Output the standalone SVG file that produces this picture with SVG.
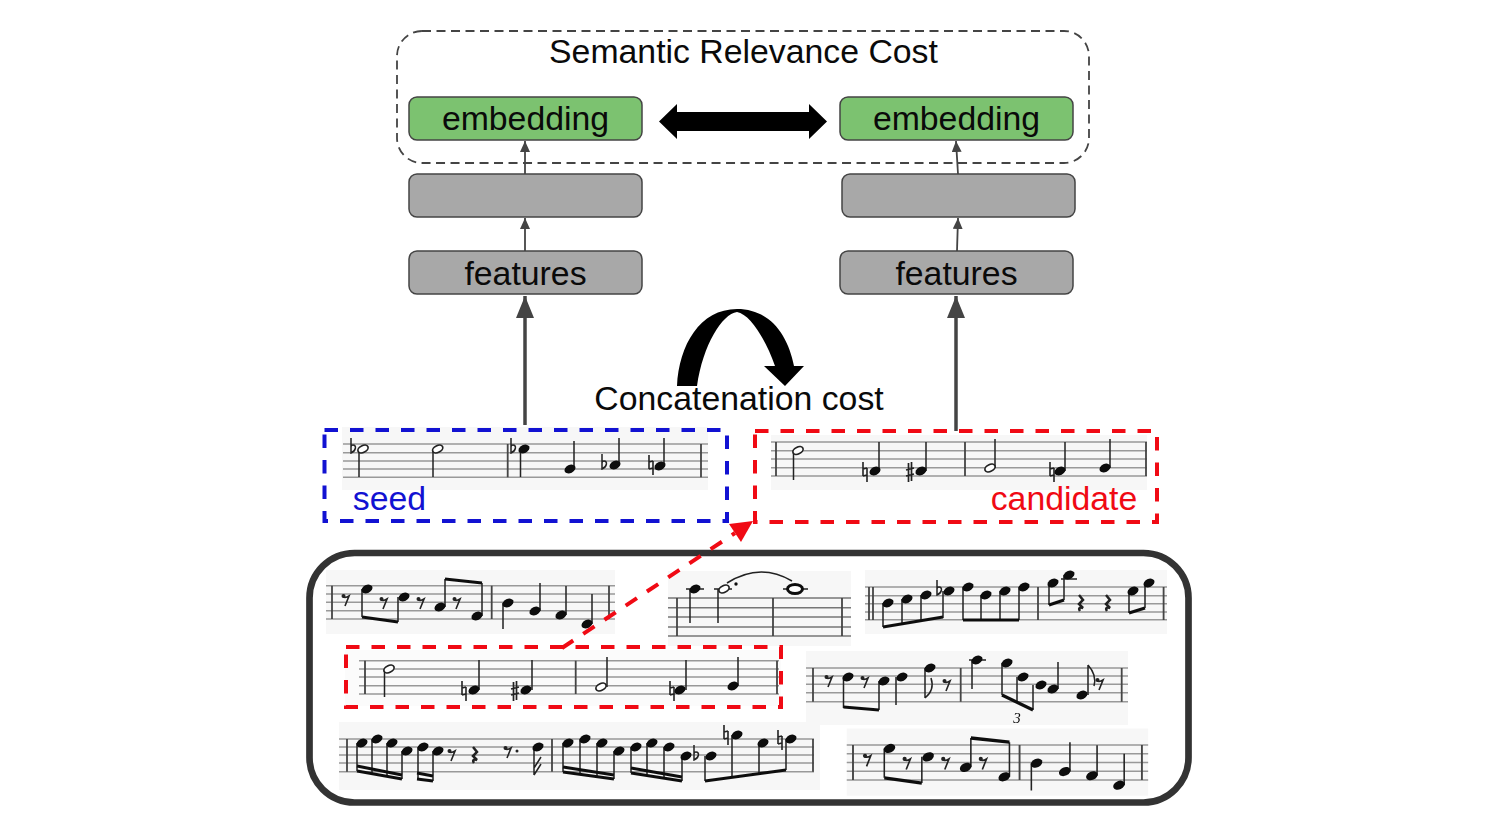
<svg xmlns="http://www.w3.org/2000/svg" width="1504" height="830" viewBox="0 0 1504 830">
<style>
text{font-family:"Liberation Sans",Arial,sans-serif;fill:#0a0a0a;font-size:33.800px;text-anchor:middle}
.box{stroke:#444;stroke-width:1.5}
.g{fill:#7cc270}
.k{fill:#a8a8a8}
.bg{fill:#f7f7f7}
.sl{stroke:#999;stroke-width:1.4;fill:none}
.bar{stroke:#444;stroke-width:1.8;fill:none}
.st{stroke:#222;stroke-width:1.5;fill:none}
.bm{stroke:#111;stroke-width:3.2;fill:none}
.thin{stroke:#444;stroke-width:1.8;fill:none}
.thick{stroke:#444;stroke-width:3.5;fill:none}
.rd{stroke:#f00a14;stroke-width:4;stroke-dasharray:13.500 12;fill:none}
.bl{stroke:#1212d2;stroke-width:4;stroke-dasharray:13.500 12;fill:none}
</style>
<defs>
<filter id="soft" x="0" y="0" width="100%" height="100%"><feGaussianBlur stdDeviation="0.35"/></filter>
<marker id="hs" markerUnits="userSpaceOnUse" markerWidth="12" markerHeight="14" refX="11" refY="5" orient="auto"><path d="M0,0L11,5L0,10z" fill="#444"/></marker>
<marker id="hl" markerUnits="userSpaceOnUse" markerWidth="24" markerHeight="20" refX="22" refY="9" orient="auto"><path d="M0,0L22,9L0,18z" fill="#444"/></marker>
<g id="n"><ellipse rx="5.800" ry="4" transform="rotate(-25)" fill="#0a0a0a"/></g>
<g id="h"><ellipse rx="5.400" ry="3.400" transform="rotate(-25)" fill="#fff" stroke="#222" stroke-width="1.700"/></g>
<path id="fl" d="M-2,-11V4C3,2 4,-4 0,-4C-1,-4-2,-3-2,-2" fill="none" stroke="#222" stroke-width="1.500"/>
<path id="na" d="M-2,-10V4M2,-4V10M-2,-3L2,-4M-2,4L2,3" fill="none" stroke="#222" stroke-width="1.600"/>
<path id="sh" d="M-1.500,-9V10M1.500,-10V9M-4,-2L4,-4M-4,4L4,2" fill="none" stroke="#222" stroke-width="1.700"/>
<g id="r8"><circle cx="-2.500" cy="-4" r="2" fill="#222"/><path d="M-3,-3Q0,-2 3,-4L-1,6" fill="none" stroke="#222" stroke-width="1.600"/></g>
<path id="rq" d="M-1,-8L3,-3L-1,1L3,5C0,4-2,5 0,8" fill="none" stroke="#222" stroke-width="2.500"/>
<g id="scoreA">
<rect class="bg" x="326" y="570" width="289" height="64"/>
<path class="sl" d="M326,585.700H615M326,594H615M326,602.300H615M326,610.700H615M326,619H615"/>
<path class="bar" d="M332,585.700V619M491.700,585.700V619M609,585.700V619"/>
<path class="st" d="M362,589V617M398,597V622M445,607V579M482,616V583M503,603V629M540,611V583M566,615V586M592,624V594"/>
<path class="bm" d="M362,617L398,622M445,579L482,583"/>
<use href="#r8" x="346" y="600"/><use href="#n" x="367" y="589"/><use href="#r8" x="384" y="603"/><use href="#n" x="404" y="597"/><use href="#r8" x="421" y="603"/><use href="#n" x="440" y="607"/><use href="#r8" x="457" y="603"/><use href="#n" x="477" y="616"/><use href="#n" x="508" y="603"/><use href="#n" x="535" y="611"/><use href="#n" x="561" y="615"/><use href="#n" x="587" y="624"/>
</g>
</defs>
<rect width="1504" height="830" fill="#fff"/>

<g id="semantic-cost">
<rect x="397" y="31" width="692" height="132" rx="25" fill="none" stroke="#444" stroke-width="1.800" stroke-dasharray="9 5.500"/>
<text x="743.500" y="63">Semantic Relevance Cost</text>
</g>
<g id="embedding-left"><rect class="box g" x="409" y="97" width="233" height="43" rx="8"/><text x="525.500" y="130">embedding</text></g>
<g id="embedding-right"><rect class="box g" x="840" y="97" width="233" height="43" rx="8"/><text x="956.500" y="130">embedding</text></g>
<g id="hidden-left"><rect class="box k" x="409" y="174" width="233" height="43" rx="8"/></g>
<g id="hidden-right"><rect class="box k" x="842" y="174" width="233" height="43" rx="8"/></g>
<g id="features-left"><rect class="box k" x="409" y="251" width="233" height="43" rx="8"/><text x="525.500" y="285">features</text></g>
<g id="features-right"><rect class="box k" x="840" y="251" width="233" height="43" rx="8"/><text x="956.500" y="285">features</text></g>

<g id="concatenation">
<path d="M677,386C679,345 700,309 737,309C770,309 788,335 794,366L804,366L785,386L764,366L775,366C766,340 750,314 737,312C722,314 703,345 697,386Z" fill="#000"/>
<text x="739" y="410">Concatenation cost</text>
</g>

<g id="seed">
<g filter="url(#soft)">
<rect class="bg" x="342" y="427" width="366" height="63"/>
<path class="sl" d="M343,444H708M343,452.700H708M343,461H708M343,469H708M343,477.300H708"/>
<path class="bar" d="M507.700,444V477.300M701,444V477.300"/>
<path class="st" d="M359,449V477M433,449V477M520.500,449V477M574,469V441M619,465V438M664,466V438"/>
<use href="#fl" x="353" y="449"/><use href="#h" x="363" y="449"/><use href="#h" x="437.700" y="449"/><use href="#fl" x="513" y="449"/><use href="#n" x="524" y="449"/><use href="#n" x="570" y="469"/><use href="#fl" x="604" y="465"/><use href="#n" x="615" y="465"/><use href="#na" x="651" y="465"/><use href="#n" x="660" y="466"/>
</g>
<rect class="bl" x="324.500" y="430" width="402.500" height="91"/>
<text x="389.500" y="510" style="fill:#1212d2">seed</text>
</g>

<g id="candidate">
<g filter="url(#soft)">
<rect class="bg" x="771" y="435" width="376" height="55"/>
<path class="sl" d="M771,442H1147M771,450.700H1147M771,459H1147M771,467.700H1147M771,476H1147"/>
<path class="bar" d="M776,442V476M965,442V476M1146,442V476"/>
<path class="st" d="M793.500,450V480M879,471V442M926,471V442M995,468V439M1065,471V442M1110,468V439"/>
<use href="#h" x="798" y="450.500"/><use href="#na" x="865" y="472"/><use href="#n" x="875" y="471"/><use href="#sh" x="910" y="472"/><use href="#n" x="921" y="471"/><use href="#h" x="990" y="468"/><use href="#na" x="1052" y="472"/><use href="#n" x="1060" y="471"/><use href="#n" x="1105" y="468"/>
</g>
<rect class="rd" x="755" y="431" width="402" height="91"/>
<text x="1064" y="510" style="fill:#f00a14">candidate</text>
</g>

<g id="corpus">
<rect x="309.500" y="553" width="879" height="249.500" rx="45" fill="#fff" stroke="#333" stroke-width="6.700"/>
<g filter="url(#soft)">
<use href="#scoreA"/>
<use href="#scoreA" transform="translate(853 745) scale(1.043 1.05) translate(-332 -585.700)"/>

<rect class="bg" x="668" y="571" width="183" height="75"/>
<path class="sl" d="M668,598H851M668,607.700H851M668,617H851M668,627H851M668,636H851" style="stroke:#777"/>
<path class="bar" d="M677,598V636M773,598V636M842,598V636"/>
<path class="st" d="M690,589V623M718,589V623M686,589H704M714,589H732M783,589H808M727,583Q760,562 792,581"/>
<use href="#n" x="695" y="589"/><use href="#h" x="724" y="589"/><circle cx="736" cy="584" r="1.700" fill="#111"/>
<ellipse cx="795" cy="589" rx="7.500" ry="4.500" fill="#fff" stroke="#111" stroke-width="3"/>

<rect class="bg" x="865" y="570" width="302" height="64"/>
<path class="sl" d="M865,587H1167M865,595.700H1167M865,603.700H1167M865,612H1167M865,619.700H1167"/>
<path class="bar" d="M869,587V620M873,587V620M1038,587V620M1163.600,587V620"/>
<path class="st" d="M883,603V627M902,599V624M921,595V621M943,591V618M963,587V620M981,595V620M1000,591V620M1019,587V620M1049,583V605M1064,575V600M1129,591V613M1145,583V608M1061,579H1077"/>
<path class="bm" d="M883,627L943,617M963,620H1019M1049,605L1064,600M1129,613L1145,608"/>
<use href="#n" x="888" y="603"/><use href="#n" x="907" y="599"/><use href="#n" x="926" y="595"/><use href="#fl" x="939" y="591"/><use href="#n" x="949" y="591"/><use href="#n" x="968" y="587"/><use href="#n" x="986" y="595"/><use href="#n" x="1005" y="591"/><use href="#n" x="1024" y="587"/><use href="#n" x="1053" y="583"/><use href="#n" x="1069" y="575"/><use href="#rq" x="1080" y="603"/><use href="#rq" x="1107" y="603"/><use href="#n" x="1133" y="591"/><use href="#n" x="1149" y="583"/>

<rect class="bg" x="345" y="650" width="436" height="56" style="fill:#fbfbfb"/>
<path class="sl" d="M359,660.700H779M359,669H779M359,677H779M359,685.700H779M359,694H779"/>
<path class="bar" d="M365,660.700V694M575.700,660.700V694M777,660.700V694"/>
<path class="st" d="M384.500,669V697M479,690V660M532,690V660M607,687V657M686,690V660M738,686V657"/>
<use href="#h" x="389" y="669"/><use href="#na" x="464" y="691"/><use href="#n" x="474" y="690"/><use href="#sh" x="515" y="691"/><use href="#n" x="526" y="690"/><use href="#h" x="601" y="687"/><use href="#na" x="672" y="691"/><use href="#n" x="680" y="690"/><use href="#n" x="733" y="686"/>

<rect class="bg" x="806" y="651" width="322" height="74"/>
<path class="sl" d="M806,668H1128M806,676H1128M806,684.300H1128M806,692.700H1128M806,701.700H1128"/>
<path class="bar" d="M813,668V701.700M960.700,668V701.700M1121.700,668V701.700"/>
<path class="st" d="M843.500,677V708M879,681V710M896,677V705M925,668V698M925,698Q935,690 931,678M972,660V689M969,660H986M1002,663V695M1017,677V702M1033,685V710M1058,689V662M1088,695V665M1088,665Q1097,675 1094,686"/>
<path class="bm" d="M843.500,707L879,710M1002,695L1033,710"/>
<use href="#r8" x="829" y="681"/><use href="#n" x="848" y="677"/><use href="#r8" x="865" y="682"/><use href="#n" x="884" y="681"/><use href="#n" x="902" y="677"/><use href="#n" x="930" y="668"/><use href="#r8" x="947" y="685"/><use href="#n" x="977" y="660"/><use href="#n" x="1007" y="663"/><use href="#n" x="1023" y="677"/><use href="#n" x="1041" y="685"/><use href="#n" x="1053" y="689"/><use href="#n" x="1082" y="695"/><use href="#r8" x="1100" y="684"/>

<rect class="bg" x="339" y="722" width="481" height="68"/>
<path class="sl" d="M339,739H814M339,747H814M339,755H814M339,763H814M339,771.700H814"/>
<path class="bar" d="M347,739V771.700M552,739V771.700M813,739V771.700"/>
<path class="st" d="M357,743V771M372,739V774M387,743V777M402,751V779M418,747V779M433,751V781M534,747V775M534,775L541,764M534,768L541,757M563,743V772M580,739V775M597,743V777M614,751V779M631,747V773M647,743V776M664,747V778M682,756V781M705,756V781M732,735V776M759,743V773M786,739V770"/>
<path class="bm" d="M357,766L402,775M357,771L402,779M417,773L433,776M417,779L433,781M563,767L614,775M563,772L614,779M631,768L682,777M631,773L682,781M705,781L786,770" style="stroke-width:3"/>
<use href="#n" x="362" y="743"/><use href="#n" x="377" y="739"/><use href="#n" x="392" y="743"/><use href="#n" x="407" y="751"/><use href="#n" x="423" y="747"/><use href="#n" x="438" y="751"/><use href="#r8" x="452" y="755"/><use href="#rq" x="474" y="755"/><use href="#r8" x="508" y="752"/><circle cx="517" cy="751" r="1.500" fill="#222"/><use href="#n" x="538" y="747"/>
<use href="#n" x="568" y="743"/><use href="#n" x="585" y="739"/><use href="#n" x="602" y="743"/><use href="#n" x="619" y="751"/><use href="#n" x="636" y="747"/><use href="#n" x="652" y="743"/><use href="#n" x="669" y="747"/><use href="#n" x="686" y="756"/><use href="#fl" x="696" y="756"/><use href="#n" x="711" y="756"/><use href="#na" x="726" y="735"/><use href="#n" x="737" y="735"/><use href="#n" x="763" y="743"/><use href="#na" x="780" y="740"/><use href="#n" x="791" y="739"/>
</g>
<text x="1017" y="723" style="font-family:'Liberation Serif',serif;font-style:italic;font-size:15px">3</text>
<rect class="rd" x="346" y="647" width="435" height="60"/>
</g>

<g id="connectors">
<path d="M659,121.500L677,104V112H809V104L827,121.500L809,139V131H677V139Z" fill="#000"/>
<path class="thin" d="M525,174V141" marker-end="url(#hs)"/>
<path class="thin" d="M958,174L956,141" marker-end="url(#hs)"/>
<path class="thin" d="M525,251V218" marker-end="url(#hs)"/>
<path class="thin" d="M957,251L958,218" marker-end="url(#hs)"/>
<path class="thick" d="M525,425V296" marker-end="url(#hl)"/>
<path class="thick" d="M956,431V296" marker-end="url(#hl)"/>
<path class="rd" d="M562,648L735,533"/>
<path d="M753,521L741,542L729,524Z" fill="#f00a14"/>
</g>
</svg>
